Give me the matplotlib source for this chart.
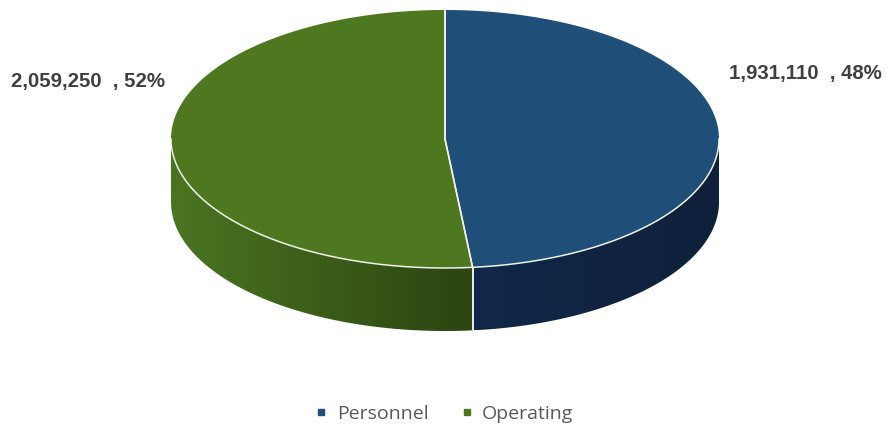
import numpy as np
import matplotlib
matplotlib.use("Agg")
import matplotlib.pyplot as plt
from matplotlib.patches import Polygon
from matplotlib.lines import Line2D
from matplotlib.colors import to_rgb

# Budget split
categories = ["Personnel", "Operating"]
values = [1931110, 2059250]

top_colors = ["#1F4E79", "#4E781F"]
# side shading: (left colour, right colour) of each visible wall
side_colors = {
    "Personnel": ("#12284A", "#0E203A"),
    "Operating": ("#4A7520", "#2C4411"),
}
label_color = "#404040"
legend_text_color = "#595959"

W, H = 888, 429
fig = plt.figure(figsize=(W / 100, H / 100), dpi=100)
ax = fig.add_axes([0, 0, 1, 1])
ax.set_xlim(0, W)
ax.set_ylim(H, 0)
ax.axis("off")

# pie geometry in pixel space
cx, cy = 445.0, 139.0
ra, rb = 274.0, 129.0
depth = 63.0


def pt(theta_deg, dy=0.0):
    t = np.radians(theta_deg)
    return cx + ra * np.cos(t), cy - rb * np.sin(t) + dy


total = float(sum(values))
fracs = [v / total for v in values]

# slices run clockwise from 12 o'clock
spans = []
start = 90.0
for f in fracs:
    end = start - 360.0 * f
    spans.append((start, end))
    start = end

# --- side walls (front half only: sin(theta) < 0) ---
for name, (s, e) in zip(categories, spans):
    lo, hi = min(s, e), max(s, e)
    th = np.linspace(lo, hi, 600)
    th = th[np.sin(np.radians(th)) < 0]
    if len(th) < 2:
        continue
    top = [pt(t) for t in th]
    bot = [pt(t, depth) for t in th[::-1]]
    poly = Polygon(top + bot, closed=True, facecolor="none", edgecolor="none")
    ax.add_patch(poly)
    xs = [p[0] for p in top]
    x0, x1 = min(xs), max(xs)
    ys = [p[1] for p in top + bot]
    y0, y1 = min(ys), max(ys)
    c_l, c_r = np.array(to_rgb(side_colors[name][0])), np.array(to_rgb(side_colors[name][1]))
    g = np.linspace(0, 1, 256)[None, :, None]
    img = c_l[None, None, :] + (c_r - c_l)[None, None, :] * g
    im = ax.imshow(img, extent=(x0, x1, y1, y0), aspect="auto",
                   interpolation="bilinear", zorder=2)
    im.set_clip_path(poly)

# divider on the wall
for s, e in spans:
    for ang in (s, e):
        if np.sin(np.radians(ang)) < -1e-6:
            xa, ya = pt(ang)
            xb, yb = pt(ang, depth)
            ax.plot([xa, xb], [ya, yb], color="#F2F2EA", lw=1.1,
                    solid_capstyle="butt", zorder=3)

# --- top face ---
for name, col, (s, e) in zip(categories, top_colors, spans):
    th = np.linspace(s, e, 300)
    xy = [(cx, cy)] + [pt(t) for t in th]
    ax.fill([p[0] for p in xy], [p[1] for p in xy], color=col, lw=0, zorder=4)

# rim highlight along the front edge
th = np.linspace(-180, 0, 300)
rim = np.array([pt(t) for t in th])
ax.plot(rim[:, 0], rim[:, 1], color="#EEF2E6", lw=1.1, zorder=5)

# radial dividers on the top
for s, e in spans:
    for ang in (s, e):
        xa, ya = pt(ang)
        ax.plot([cx, xa], [cy, ya], color="#F2F2EA", lw=1.1, zorder=5)

ax.set_xlim(0, W)
ax.set_ylim(H, 0)

# --- value labels ---
label_pos = {"Personnel": (729, 73), "Operating": (11, 81)}
for name, v, f in zip(categories, values, fracs):
    x, y = label_pos[name]
    ax.text(x, y, f"{v:,}  , {f:.0%}", ha="left", va="center",
            fontsize=14.7, fontweight="bold", color=label_color,
            family="Liberation Sans", zorder=6)

# --- legend ---
handles = [Line2D([0], [0], marker="s", linestyle="none", markersize=5,
                  markerfacecolor=c, markeredgecolor=c) for c in top_colors]
leg = ax.legend(handles, categories, loc="center", bbox_to_anchor=(0.5, 1 - 414 / H),
                ncol=2, frameon=False, handlelength=0.7, handletextpad=0.45,
                columnspacing=1.6, prop={"family": "Open Sans", "size": 14})
for t in leg.get_texts():
    t.set_color(legend_text_color)

fig.savefig("out.png", dpi=100)
